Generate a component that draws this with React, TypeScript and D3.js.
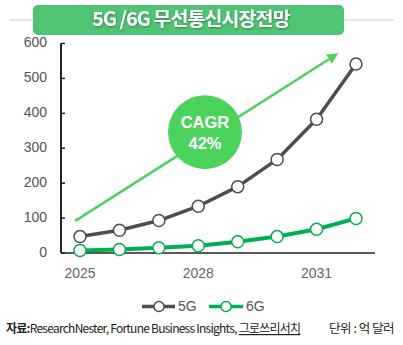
import React from "react";
import * as d3 from "d3";

const years = [2025, 2026, 2027, 2028, 2029, 2030, 2031, 2032];
const series5G = [47, 65, 93, 134, 190, 268, 383, 541];
const series6G = [7, 10, 15, 21, 32, 47, 68, 99];
const yTicks = [0, 100, 200, 300, 400, 500, 600];
const xTickLabels = [2025, 2028, 2031];
const arrowFrom = [2024.88, 92];
const arrowTo = [2031.55, 572];
const cagrCenter = [2028.17, 346];
const titleText = "5G /6G 무선통신시장전망";
const sourceBold = "자료:";
const sourceText = "ResearchNester, Fortune Business Insights, ";
const sourceUnderlined = "그로쓰리서치";
const unitText = "단위 : 억 달러";

const KR = "'Noto Sans CJK KR', 'Noto Sans', sans-serif";
const NUM = "'Liberation Sans', Arial, sans-serif";

export default function App() {
  const W = 403, H = 345;
  const x = d3.scaleLinear().domain([2025, 2032]).range([80, 356]);
  const y = d3.scaleLinear().domain([0, 600]).range([253, 43.5]);
  const line = d3.line<number>().x((_, i) => x(years[i])).y((d) => y(d));
  const c5 = "#4d4d4d";
  const c6 = "#00b050";
  const cg = "#4cd35c";

  const ax1 = x(arrowFrom[0]), ay1 = y(arrowFrom[1]);
  const ax2 = x(arrowTo[0]), ay2 = y(arrowTo[1]);
  const ang = Math.atan2(ay2 - ay1, ax2 - ax1);
  const hl = 11, hw = 5.5;
  const bx = ax2 - hl * Math.cos(ang), by = ay2 - hl * Math.sin(ang);
  const head = [
    [ax2, ay2],
    [bx + hw * Math.sin(ang), by - hw * Math.cos(ang)],
    [bx - hw * Math.sin(ang), by + hw * Math.cos(ang)],
  ];

  return (
    <svg width={W} height={H} style={{ position: "absolute", left: 0, top: 0, background: "#fff" }}>
      <defs>
        <filter id="ts" x="-10%" y="-30%" width="120%" height="160%">
          <feDropShadow dx="0.5" dy="1" stdDeviation="0.8" floodColor="#000" floodOpacity="0.35" />
        </filter>
      </defs>
      {/* title */}
      <line x1={9} x2={394} y1={20} y2={20} stroke="#cfcfcf" strokeWidth={1} />
      <rect x={33} y={5} width={311} height={30} rx={5} fill="#4fc574" />
      <text x={191} y={21} textAnchor="middle" dominantBaseline="middle" fill="#fff"
        fontFamily={KR} fontWeight={700} fontSize={19.5} letterSpacing={-0.9} filter="url(#ts)">{titleText}</text>

      {/* y axis */}
      <line x1={61} x2={61} y1={y(600)} y2={y(0)} stroke="#222" strokeWidth={2} />
      {yTicks.map((t) => (
        <g key={t}>
          <line x1={61} x2={65} y1={y(t)} y2={y(t)} stroke="#222" strokeWidth={1.5} />
          <text x={47} y={y(t)} textAnchor="end" dominantBaseline="middle" fill="#555"
            fontFamily={NUM} fontSize={14}>{t}</text>
        </g>
      ))}
      {/* x axis */}
      <line x1={61} x2={375} y1={y(0)} y2={y(0)} stroke="#222" strokeWidth={1.5} />
      {xTickLabels.map((t) => (
        <text key={t} x={x(t)} y={274} textAnchor="middle" dominantBaseline="middle" fill="#666"
          fontFamily={NUM} fontSize={14}>{t}</text>
      ))}

      {/* CAGR arrow */}
      <line x1={ax1} y1={ay1} x2={bx} y2={by} stroke={cg} strokeWidth={2.5} />
      <polygon points={head.map((p) => p.join(",")).join(" ")} fill={cg} />
      <circle cx={x(cagrCenter[0])} cy={y(cagrCenter[1])} r={37} fill={cg} />
      <text x={x(cagrCenter[0])} y={y(cagrCenter[1]) - 9} textAnchor="middle" dominantBaseline="middle"
        fill="#fff" fontFamily={NUM} fontWeight={700} fontSize={16.5}>CAGR</text>
      <text x={x(cagrCenter[0])} y={y(cagrCenter[1]) + 12} textAnchor="middle" dominantBaseline="middle"
        fill="#fff" fontFamily={NUM} fontWeight={700} fontSize={16.5}>42%</text>

      {/* series */}
      <path d={line(series5G) || ""} fill="none" stroke={c5} strokeWidth={3.5} strokeLinejoin="round" />
      {series5G.map((v, i) => (
        <circle key={"a" + i} cx={x(years[i])} cy={y(v)} r={6} fill="#fff" stroke={c5} strokeWidth={1.5} />
      ))}
      <path d={line(series6G) || ""} fill="none" stroke={c6} strokeWidth={4} strokeLinejoin="round" />
      {series6G.map((v, i) => (
        <circle key={"b" + i} cx={x(years[i])} cy={y(v)} r={6} fill="#fff" stroke={c6} strokeWidth={1.5} />
      ))}

      {/* legend */}
      <g>
        <line x1={142} x2={175} y1={306.5} y2={306.5} stroke={c5} strokeWidth={3.5} />
        <circle cx={159} cy={306.5} r={5} fill="#fff" stroke={c5} strokeWidth={1.5} />
        <text x={178} y={307} dominantBaseline="middle" fill="#555" fontFamily={NUM} fontSize={14}>5G</text>
        <line x1={209} x2={243} y1={306.5} y2={306.5} stroke={c6} strokeWidth={3.5} />
        <circle cx={226} cy={306.5} r={5} fill="#fff" stroke={c6} strokeWidth={1.5} />
        <text x={246} y={307} dominantBaseline="middle" fill="#555" fontFamily={NUM} fontSize={14}>6G</text>
      </g>

      {/* footer */}
      <text x={6} y={330} dominantBaseline="middle" fill="#222" fontFamily={KR} fontSize={12}
        letterSpacing={-0.75}>
        <tspan fontWeight={700}>{sourceBold}</tspan>
        <tspan>{sourceText}</tspan>
        <tspan textDecoration="underline">{sourceUnderlined}</tspan>
      </text>
      <text x={394} y={330} textAnchor="end" dominantBaseline="middle" fill="#222" fontFamily={KR}
        fontSize={12.5} letterSpacing={-0.5}>{unitText}</text>
    </svg>
  );
}
